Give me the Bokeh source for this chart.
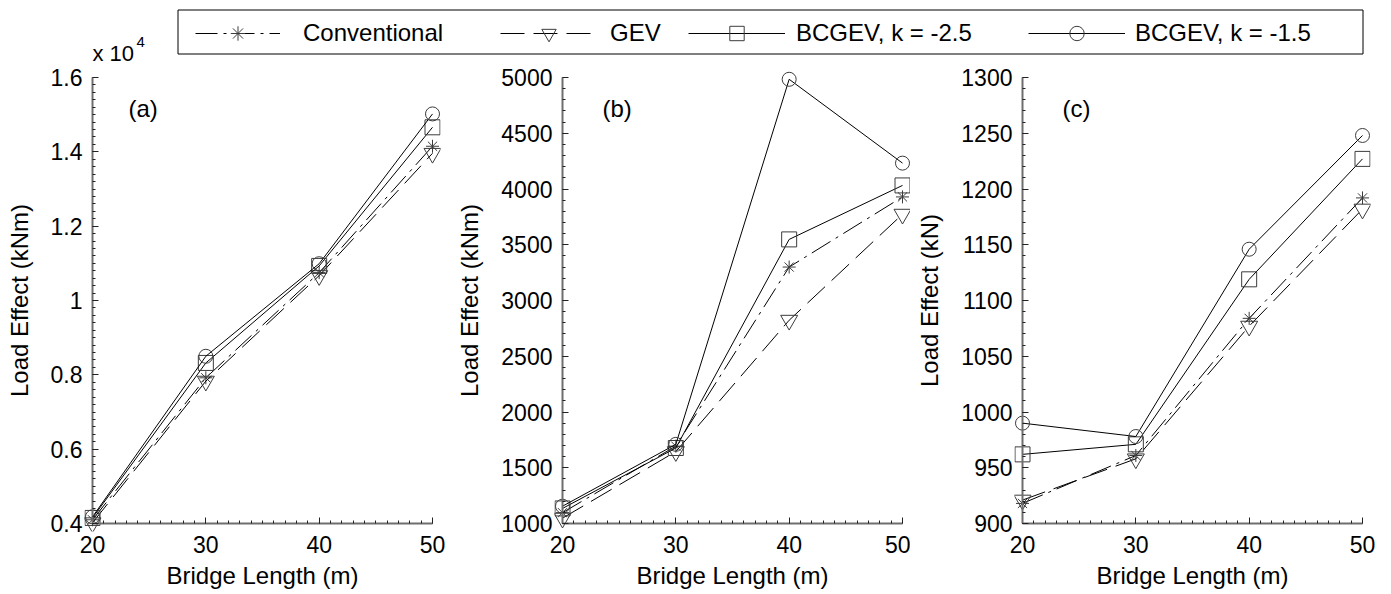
from bokeh.plotting import figure
from bokeh.models import (Range1d, FixedTicker, Label, Legend, LegendItem,
                          BoxAnnotation, ColumnDataSource, LinearAxis)
from bokeh.layouts import column, row
from bokeh.embed import file_html
from bokeh.resources import INLINE

# ---------------- data ----------------
lengths = [20, 30, 40, 50]
series_labels = ["Conventional", "GEV", "BCGEV, k = -2.5", "BCGEV, k = -1.5"]

# panel (a): moment, kNm
conv_a = [4100, 7920, 10750, 14150]
gev_a = [4020, 7830, 10670, 13960]
bc25_a = [4150, 8320, 10930, 14660]
bc15_a = [4180, 8500, 10990, 15020]

# panel (b): moment, kNm
conv_b = [1097, 1694, 3300, 3929]
gev_b = [1048, 1645, 2823, 3774]
bc25_b = [1135, 1677, 3548, 4032]
bc15_b = [1155, 1710, 4984, 4232]

# panel (c): shear, kN
conv_c = [918, 961, 1084, 1192]
gev_c = [921, 958, 1077, 1182]
bc25_c = [962, 971, 1119, 1227]
bc15_c = [990, 978, 1146, 1248]

x_ticks = [20, 30, 40, 50]
a_ticks = [4000, 6000, 8000, 10000, 12000, 14000, 16000]
a_tick_labels = ["0.4", "0.6", "0.8", "1", "1.2", "1.4", "1.6"]
b_ticks = [1000, 1500, 2000, 2500, 3000, 3500, 4000, 4500, 5000]
c_ticks = [900, 950, 1000, 1050, 1100, 1150, 1200, 1250, 1300]

# ---------------- style ----------------
FONT = "Liberation Sans"
markers = ["asterisk", "inverted_triangle", "square", "circle"]
msizes = [13, 17, 15, 14]
dashes = ["22 6 3 6", "24 9", "solid", "solid"]
MK_COLOR = "#3c3c3c"

AX_L, AX_R = 20, 50
PX_W, PX_H = 340, 446
PAD = 8
HEADER_H = 66


def style_label_axis(ax):
    ax.axis_line_color = None
    ax.major_tick_line_color = None
    ax.minor_tick_line_color = None
    ax.major_tick_in = 0
    ax.major_tick_out = 0
    ax.minor_tick_in = 0
    ax.minor_tick_out = 0
    ax.major_label_text_font = FONT
    ax.major_label_text_font_size = "23px"
    ax.major_label_text_color = "black"
    ax.major_label_standoff = 2
    ax.axis_label_text_font = FONT
    ax.axis_label_text_font_size = "24px"
    ax.axis_label_text_font_style = "normal"
    ax.axis_label_text_color = "black"


def style_line_axis(ax):
    ax.axis_line_color = "#6e6e6e"
    ax.axis_line_width = 2
    ax.major_tick_line_color = "#222222"
    ax.minor_tick_line_color = "#222222"
    ax.major_tick_in = 6
    ax.major_tick_out = 0
    ax.minor_tick_in = 3
    ax.minor_tick_out = 0
    ax.major_label_text_alpha = 0
    ax.major_label_text_font_size = "1px"
    ax.axis_label = None


def panel(series, ticks, minor_step, ylabel, left_border, right_border,
          letter, letter_dx, overrides=None):
    y0, y1 = ticks[0], ticks[-1]
    dx = (AX_R - AX_L) / PX_W * PAD
    dy = (y1 - y0) / PX_H * PAD
    p = figure(frame_width=PX_W + 2 * PAD, frame_height=PX_H + 2 * PAD,
               x_range=Range1d(AX_L - dx, AX_R + dx),
               y_range=Range1d(y0 - dy, y1 + dy),
               min_border_left=left_border, min_border_right=right_border,
               min_border_top=3, min_border_bottom=63,
               toolbar_location=None, output_backend="svg", title=None)
    p.outline_line_color = None
    p.grid.visible = False

    for vals, mk, ms, dash in zip(series, markers, msizes, dashes):
        src = ColumnDataSource(dict(x=lengths, y=vals))
        p.line("x", "y", source=src, line_color="black", line_width=1,
               line_dash=dash)
        p.scatter("x", "y", source=src, marker=mk, size=ms,
                  line_color=MK_COLOR, fill_color=None, line_width=1)

    n_minor_y = int(round((y1 - y0) / minor_step))
    x_minor = [AX_L + i for i in range(AX_R - AX_L + 1)]
    y_minor = [y0 + i * minor_step for i in range(n_minor_y + 1)]

    # label-only axes at the frame edges
    p.xaxis.ticker = FixedTicker(ticks=x_ticks, minor_ticks=[])
    p.yaxis.ticker = FixedTicker(ticks=ticks, minor_ticks=[])
    style_label_axis(p.xaxis[0])
    style_label_axis(p.yaxis[0])
    p.xaxis.major_label_standoff = 4
    if overrides:
        p.yaxis.major_label_overrides = overrides
    p.xaxis.axis_label = "Bridge Length (m)"
    p.xaxis.axis_label_standoff = 6
    p.yaxis.axis_label = ylabel
    p.yaxis.axis_label_standoff = 15

    # axis lines + ticks sitting exactly on the data limits
    xl = LinearAxis(ticker=FixedTicker(ticks=x_ticks, minor_ticks=x_minor),
                    fixed_location=y0, bounds=(AX_L, AX_R))
    yl = LinearAxis(ticker=FixedTicker(ticks=ticks, minor_ticks=y_minor),
                    fixed_location=AX_L, bounds=(y0, y1))
    style_line_axis(xl)
    style_line_axis(yl)
    p.add_layout(xl, "below")
    p.add_layout(yl, "left")

    p.add_layout(Label(x=AX_L + letter_dx / PX_W * (AX_R - AX_L),
                       y=y1 - 31 / PX_H * (y1 - y0),
                       text=letter, text_font=FONT, text_font_size="24px",
                       text_baseline="middle", text_color="black"))
    return p


pa = panel([conv_a, gev_a, bc25_a, bc15_a], a_ticks, 200, "Load Effect (kNm)",
           84, 10, "(a)", 36,
           overrides=dict(zip(a_ticks, a_tick_labels)))
pb = panel([conv_b, gev_b, bc25_b, bc15_b], b_ticks, 100, "Load Effect (kNm)",
           104, 0, "(b)", 40)
pc = panel([conv_c, gev_c, bc25_c, bc15_c], c_ticks, 10, "Load Effect (kN)",
           104, 21, "(c)", 40)

# ---------------- header: exponent + legend ----------------
header = figure(width=1391, height=HEADER_H, x_range=Range1d(0, 1391),
                y_range=Range1d(0, HEADER_H), min_border=0,
                toolbar_location=None, output_backend="svg",
                x_axis_type=None, y_axis_type=None, title=None)
header.outline_line_color = None
header.grid.visible = False

header.add_layout(Label(x=92, y=HEADER_H - 53, text="x 10", text_font=FONT,
                        text_font_size="22px", text_baseline="middle",
                        text_color="black"))
header.add_layout(Label(x=136, y=HEADER_H - 41, text="4", text_font=FONT,
                        text_font_size="15px", text_baseline="middle",
                        text_color="black"))

header.add_layout(BoxAnnotation(left=177.5, right=1362.5, bottom=12.5, top=56.5,
                                fill_color=None, fill_alpha=0,
                                line_color="black", line_alpha=1, line_width=1))

# legend renderers reuse panel (b) data; in the header's 0..66 range they are off-view
leg_x = [195, 500, 688, 1028]
leg_w = [85, 97, 97, 97]
leg_standoff = [23, 13, 11, 10]
for lab, vals, mk, ms, dash, lx, gw, so in zip(series_labels,
                                                [conv_b, gev_b, bc25_b, bc15_b],
                                                markers, msizes, dashes,
                                                leg_x, leg_w, leg_standoff):
    src = ColumnDataSource(dict(x=lengths, y=vals))
    lr = header.line("x", "y", source=src, line_color="black", line_width=1,
                     line_dash=dash)
    sr = header.scatter("x", "y", source=src, marker=mk, size=ms,
                        line_color=MK_COLOR, fill_color=None, line_width=1)
    leg = Legend(items=[LegendItem(label=lab, renderers=[lr, sr])],
                 location=(lx, HEADER_H - 33 - 18), orientation="horizontal",
                 padding=0, margin=0, border_line_color=None,
                 background_fill_alpha=0, glyph_width=gw, glyph_height=36,
                 label_height=36, label_standoff=so,
                 label_text_font=FONT, label_text_font_size="24px",
                 label_text_color="black")
    header.add_layout(leg)

layout = column(header, row(pa, pb, pc))

open("out.html", "w").write(file_html(layout, INLINE))
